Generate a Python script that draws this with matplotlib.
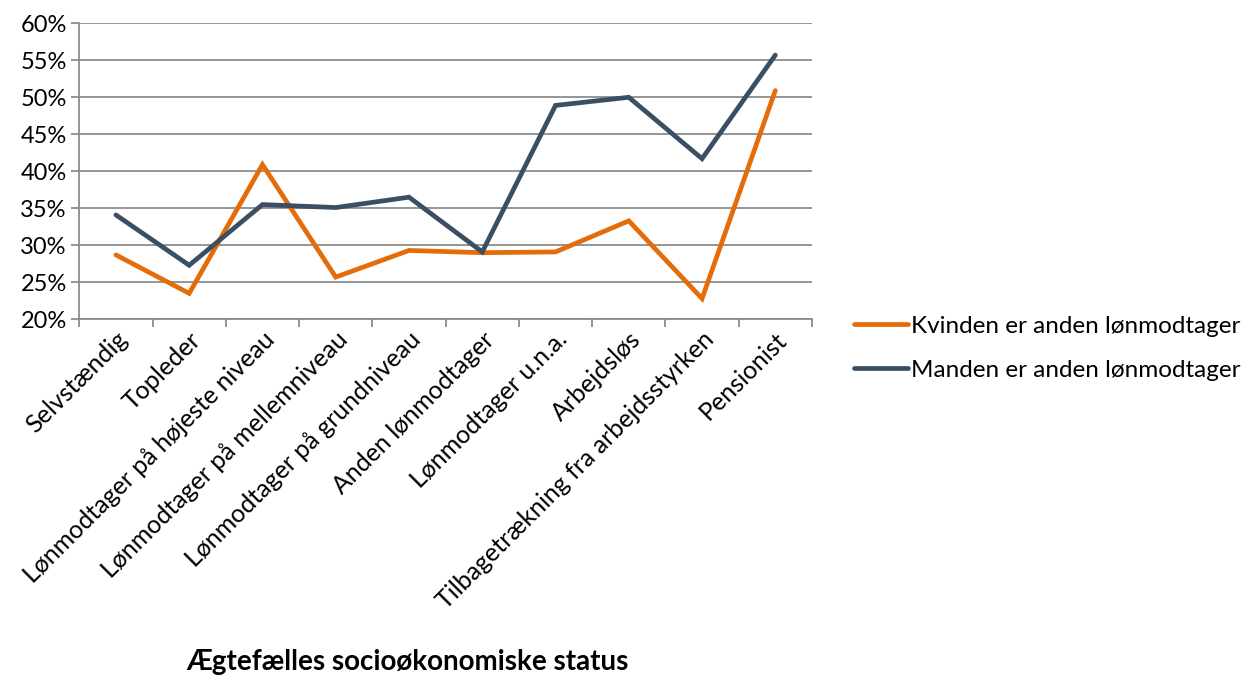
import numpy as np
import matplotlib
matplotlib.use("Agg")
import matplotlib.pyplot as plt
from matplotlib.ticker import FixedLocator, PercentFormatter

plt.rcParams['font.family'] = ['Lato', 'DejaVu Sans']

categories = [
    "Selvstændig",
    "Topleder",
    "Lønmodtager på højeste niveau",
    "Lønmodtager på mellemniveau",
    "Lønmodtager på grundniveau",
    "Anden lønmodtager",
    "Lønmodtager u.n.a.",
    "Arbejdsløs",
    "Tilbagetrækning fra arbejdsstyrken",
    "Pensionist",
]
kvinden = [28.7, 23.5, 40.9, 25.7, 29.3, 29.0, 29.1, 33.3, 22.8, 50.9]
manden = [34.1, 27.3, 35.5, 35.1, 36.5, 29.1, 48.9, 50.0, 41.7, 55.7]
series_names = ["Kvinden er anden lønmodtager", "Manden er anden lønmodtager"]
y_ticks = [20, 25, 30, 35, 40, 45, 50, 55, 60]

orange = "#E46C0A"
blue = "#3A4F63"
grid_col = "#8C8C8C"

fig = plt.figure(figsize=(12.53, 6.75), dpi=100)
ax = fig.add_axes([0.0633, 0.527, 0.5847, 0.4385])

x = np.arange(len(categories))
ax.plot(x, kvinden, color=orange, lw=3.4, label=series_names[0], solid_capstyle='round', solid_joinstyle='miter')
ax.plot(x, manden, color=blue, lw=3.4, label=series_names[1], solid_capstyle='round', solid_joinstyle='miter')

ax.set_xlim(-0.5, len(categories) - 0.5)
ax.set_ylim(20, 60)
ax.yaxis.set_major_locator(FixedLocator(y_ticks))
ax.yaxis.set_major_formatter(PercentFormatter(decimals=0))
ax.grid(axis='y', color=grid_col, lw=1.3)
ax.set_axisbelow(True)

# category labels at centres, tick marks at the boundaries
ax.set_xticks(x)
ax.set_xticklabels(categories, rotation=45, ha='right', va='top', rotation_mode='anchor', fontsize=18)
ax.tick_params(axis='x', which='major', length=0, pad=6)
ax.set_xticks(np.arange(-0.5, len(categories)), minor=True)
ax.tick_params(axis='x', which='minor', length=6, width=1.3, color=grid_col, direction='out')
ax.tick_params(axis='y', length=6, width=1.3, color=grid_col, labelsize=17, pad=3)

for side in ['top', 'right']:
    ax.spines[side].set_visible(False)
for side in ['left', 'bottom']:
    ax.spines[side].set_color(grid_col)
    ax.spines[side].set_linewidth(1.3)

fig.legend(loc='upper left', bbox_to_anchor=(0.674, 0.547), frameon=False, fontsize=17.5,
           handlelength=2.2, handletextpad=0.12, labelspacing=0.95, borderaxespad=0)

fig.text(0.325, 0.0, "Ægtefælles socioøkonomiske status", ha='center', va='bottom',
         fontsize=20, fontweight='bold')

fig.savefig("out.png", dpi=100)
